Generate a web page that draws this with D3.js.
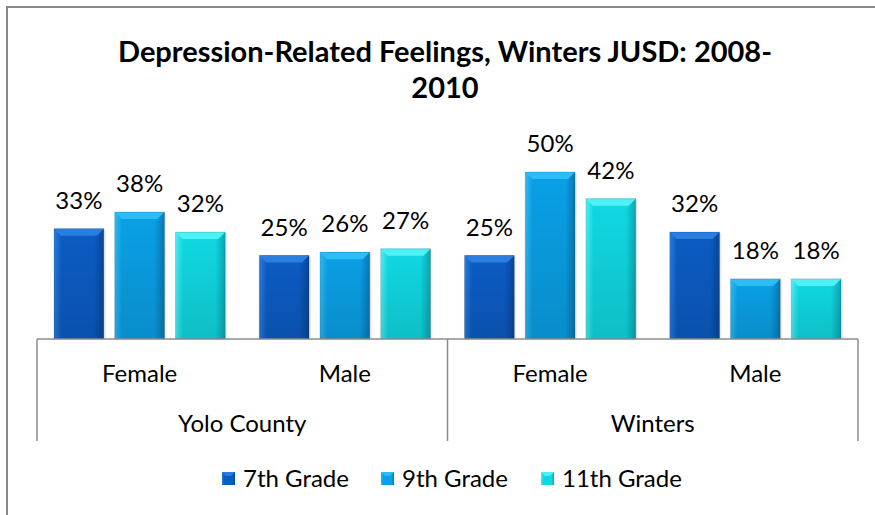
<!DOCTYPE html>
<html>
<head lang="en">
    <meta charset="UTF-8">
    <title>Depression-Related Feelings</title>
    <script src="https://cdn.jsdelivr.net/npm/d3@7"></script>
    <style>
        body{margin:0;background:#fff;}
        text{font-family:Lato,"Open Sans",sans-serif;fill:#000;}
    </style>
</head>
<body>
<script>
    // data
    var regions=["Yolo County","Winters"];
    var genders=["Female","Male"];
    var grades=["7th Grade","9th Grade","11th Grade"];
    var grade7=[33,25,25,32];
    var grade9=[38,26,50,18];
    var grade11=[32,27,42,18];
    var seriesValues=[grade7,grade9,grade11];

    // colours: [light, mid, dark]
    var palette=[
        ["#2a7ee0","#0c5cc4","#08469a"],
        ["#2cbcf6","#0aa0e6","#0878b4"],
        ["#4cf2f6","#10d8e2","#0aa8b2"]
    ];

    var W=875,H=515;
    var svg=d3.select("body").append("svg")
            .attr("width",W)
            .attr("height",H);

    // outer chart frame (runs off the right / bottom edge)
    svg.append("rect")
            .attr("x",7).attr("y",7)
            .attr("width",W+10).attr("height",H+10)
            .style("fill","none")
            .style("stroke","#888")
            .style("stroke-width",2);

    svg.append("text")
            .attr("x",445).attr("y",62)
            .attr("text-anchor","middle")
            .style("font-size","29px").style("font-weight","bold")
            .text("Depression-Related Feelings, Winters JUSD: 2008-");
    svg.append("text")
            .attr("x",445).attr("y",98)
            .attr("text-anchor","middle")
            .style("font-size","29px").style("font-weight","bold")
            .text("2010");

    var left=37,right=858,baseY=339;
    var cats=[];
    regions.forEach(function(r){
        genders.forEach(function(g){cats.push(r+"|"+g);});
    });

    var x0=d3.scaleBand().domain(cats).range([left,right]);
    var x1=d3.scaleBand().domain(grades)
            .range([17,x0.bandwidth()-17])
            .paddingInner(0.18);
    var y=d3.scaleLinear().domain([0,60]).range([baseY,baseY-200.4]);

    // gradients
    var defs=svg.append("defs");
    palette.forEach(function(c,i){
        var gh=defs.append("linearGradient").attr("id","gh"+i)
                .attr("x1","0").attr("x2","1").attr("y1","0").attr("y2","0");
        gh.append("stop").attr("offset","0").attr("stop-color",c[0]);
        gh.append("stop").attr("offset","0.15").attr("stop-color",c[1]);
        gh.append("stop").attr("offset","0.8").attr("stop-color",c[1]);
        gh.append("stop").attr("offset","1").attr("stop-color",c[2]);
        var gv=defs.append("linearGradient").attr("id","gv"+i)
                .attr("x1","0").attr("x2","0").attr("y1","0").attr("y2","1");
        gv.append("stop").attr("offset","0").attr("stop-color","#000").attr("stop-opacity",0);
        gv.append("stop").attr("offset","1").attr("stop-color","#000").attr("stop-opacity",0.12);
    });

    var bars=[];
    seriesValues.forEach(function(vals,si){
        vals.forEach(function(v,ci){
            bars.push({cat:cats[ci],grade:grades[si],si:si,value:v});
        });
    });

    var g=svg.append("g");
    var barG=g.selectAll("g.bar")
            .data(bars)
            .enter()
            .append("g")
            .attr("class","bar");

    function bx(d){return x0(d.cat)+x1(d.grade);}
    var bw=x1.bandwidth();
    var bev=7;

    // soft shadow
    barG.append("rect")
            .attr("x",function(d){return bx(d)+2;})
            .attr("y",function(d){return y(d.value)+1;})
            .attr("width",bw)
            .attr("height",function(d){return baseY-y(d.value)-1;})
            .style("fill","#000").style("opacity",0.08);
    barG.append("rect")
            .attr("x",bx)
            .attr("y",function(d){return y(d.value);})
            .attr("width",bw)
            .attr("height",function(d){return baseY-y(d.value);})
            .style("fill",function(d){return "url(#gh"+d.si+")";});
    barG.append("rect")
            .attr("x",bx)
            .attr("y",function(d){return y(d.value);})
            .attr("width",bw)
            .attr("height",function(d){return baseY-y(d.value);})
            .style("fill",function(d){return "url(#gv"+d.si+")";});
    // top bevel
    barG.append("path")
            .attr("d",function(d){
                var p=d3.path(),x=bx(d),t=y(d.value);
                p.moveTo(x,t);p.lineTo(x+bw,t);
                p.lineTo(x+bw-bev,t+bev);p.lineTo(x+bev,t+bev);p.closePath();
                return p.toString();
            })
            .style("fill",function(d){return palette[d.si][0];});
    barG.append("rect")
            .attr("x",bx)
            .attr("y",function(d){return y(d.value);})
            .attr("width",bw)
            .attr("height",function(d){return baseY-y(d.value);})
            .style("fill","none")
            .style("stroke","rgba(0,0,0,0.15)")
            .style("stroke-width",1);

    // value labels
    g.selectAll("text.val")
            .data(bars)
            .enter()
            .append("text")
            .attr("class","val")
            .attr("x",function(d){return bx(d)+bw/2;})
            .attr("y",function(d){return y(d.value)-20;})
            .attr("text-anchor","middle")
            .style("font-size","24px")
            .text(function(d){return d.value+"%";});

    // axis lines
    var axisG=svg.append("g").style("stroke","#8c8c8c").style("stroke-width",1.5);
    axisG.append("line").attr("x1",left).attr("x2",right).attr("y1",baseY).attr("y2",baseY);
    var regionEdges=[left,x0(cats[2]),right];
    regionEdges.forEach(function(xv){
        axisG.append("line").attr("x1",xv).attr("x2",xv).attr("y1",baseY).attr("y2",441);
    });

    svg.selectAll("text.cat")
            .data(cats)
            .enter()
            .append("text")
            .attr("x",function(d){return x0(d)+x0.bandwidth()/2;})
            .attr("y",382)
            .attr("text-anchor","middle")
            .style("font-size","24px")
            .text(function(d){return d.split("|")[1];});

    svg.selectAll("text.reg")
            .data(regions)
            .enter()
            .append("text")
            .attr("x",function(d,i){return (regionEdges[i]+regionEdges[i+1])/2;})
            .attr("y",432)
            .attr("text-anchor","middle")
            .style("font-size","24px")
            .text(function(d){return d;});

    // legend
    var legX=[222,381,541];
    var leg=svg.selectAll("g.leg")
            .data(grades)
            .enter()
            .append("g")
            .attr("transform",function(d,i){return "translate("+legX[i]+",472)";});
    leg.append("rect")
            .attr("width",13).attr("height",13)
            .style("fill",function(d,i){return "url(#gh"+i+")";});
    leg.append("path")
            .attr("d","M0,0L13,0L9,4L4,4Z")
            .style("fill",function(d,i){return palette[i][0];});
    leg.append("text")
            .attr("x",21).attr("y",15)
            .style("font-size","24px")
            .text(function(d){return d;});
</script>
</body>
</html>
